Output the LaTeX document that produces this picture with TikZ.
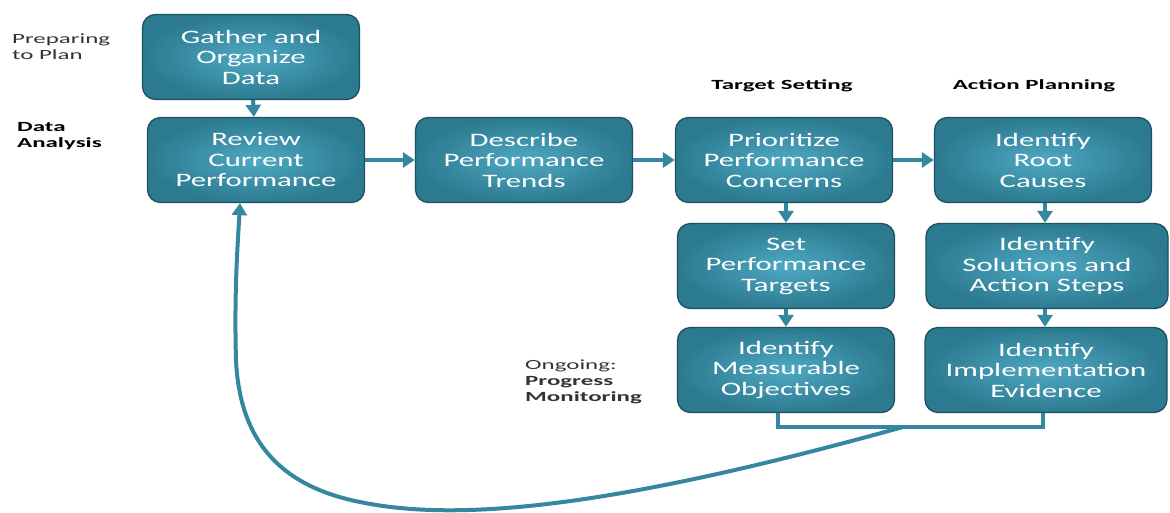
\documentclass[tikz,border=0pt]{standalone}
\usepackage{fontspec}
\usetikzlibrary{arrows.meta}
\newfontfamily\boxfont[FakeStretch=1.62]{Carlito}
\newfontfamily\labelfont[FakeStretch=1.78]{Carlito}
\definecolor{tealline}{HTML}{35879F}
\definecolor{tealin}{HTML}{4EA9C2}
\definecolor{tealout}{HTML}{2C7A90}
\definecolor{tealedge}{HTML}{1D5060}
\tikzset{
  stepbox/.style={draw=tealedge, line width=1.3pt, rounded corners=13pt,
    inner color=tealin, outer color=tealout, text=white, align=center,
    minimum width=217pt, minimum height=85pt, inner sep=0pt,
    font=\boxfont\fontsize{19}{20.5}\selectfont},
  widebox/.style={stepbox, minimum width=242pt},
  phase/.style={align=left, anchor=north west, inner sep=0pt,
    font=\labelfont\fontsize{14}{16}\selectfont},
  boldphase/.style={phase, font=\labelfont\bfseries\fontsize{14}{16}\selectfont},
  flow/.style={tealline, line width=4pt, -{Triangle[width=15pt,length=12pt]}}
}
\begin{document}
\begin{tikzpicture}[x=1pt,y=-1pt]
    \useasboundingbox (0,0) rectangle (1170,512);
    \node[stepbox](gather)     at (251,57)  {Gather and\\Organize\\Data};
    \node[stepbox](review)     at (256,160) {Review\\Current\\Performance};
    \node[stepbox](describe)   at (524,160) {Describe\\Performance\\Trends};
    \node[stepbox](prioritize) at (784,160) {Prioritize\\Performance\\Concerns};
    \node[stepbox](rootcauses) at (1043,160){Identify\\Root\\Causes};
    \node[stepbox](settargets) at (786,266) {Set\\Performance\\Targets};
    \node[widebox](solutions)  at (1047,266){Identify\\Solutions and\\Action Steps};
    \node[stepbox](measurable) at (786,370) {Identify\\Measurable\\Objectives};
    \node[widebox](evidence)   at (1046,370){Identify\\Implementation\\Evidence};

    \node[phase,text=black!80](preparing) at (12,34)   {Preparing\\to Plan};
    \node[boldphase](dataanalysis) at (17,122) {Data\\Analysis};
    \node[boldphase,anchor=center](targetsetting) at (782,86) {Target Setting};
    \node[boldphase,anchor=center](actionplanning) at (1034,86) {Action Planning};
    \node[phase,text=black!80](ongoing) at (525,360) {Ongoing:\\\textbf{Progress}\\\textbf{Monitoring}};

    \draw[flow] (gather)     to (review);
    \draw[flow] (review)     to (describe);
    \draw[flow] (describe)   to (prioritize);
    \draw[flow] (prioritize) to (rootcauses);
    \draw[flow] (prioritize.south -| settargets) to (settargets);
    \draw[flow] (settargets) to (measurable);
    \draw[flow] (rootcauses.south -| 1045,0) to (solutions.north -| 1045,0);
    \draw[flow] (solutions.south -| 1045,0)  to (evidence.north -| 1045,0);

%    bracket under the last two boxes and the loop back
    \coordinate(brleft)  at (778,427);
    \coordinate(brright) at (1043,427);
    \coordinate(loopstart) at (903,427);
    \draw[tealline,line width=4pt] (measurable.south -| brleft) -- (brleft) -- (brright) -- (evidence.south -| brright);
    \draw[flow] (loopstart) .. controls (640,500) and (470,525) .. (360,502)
                .. controls (290,488) and (240,450) .. (236,360)
                .. controls (234,290) and (238,240) .. (review.south -| 240,0);
\end{tikzpicture}
\end{document}
